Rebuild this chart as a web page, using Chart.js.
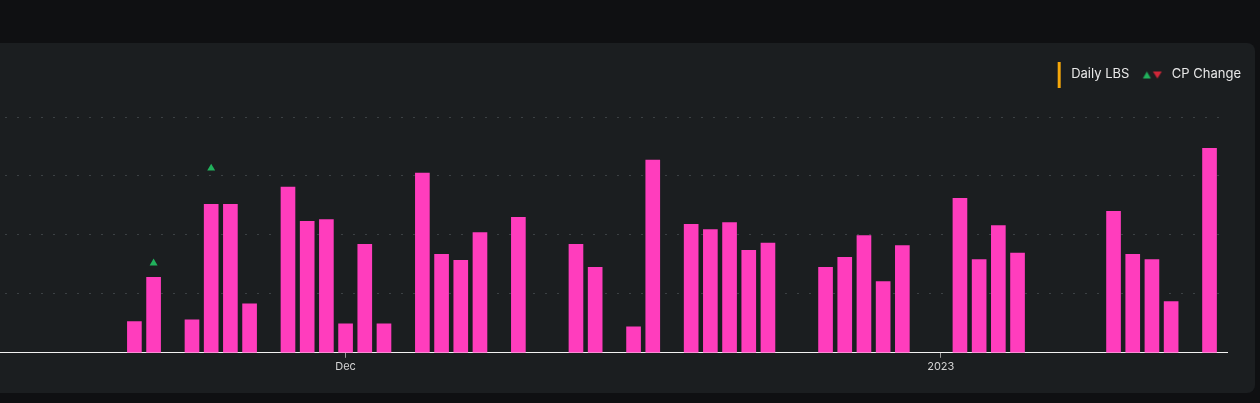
<!DOCTYPE html>
<html>
<head>
<meta charset="utf-8">
<script src="https://cdn.jsdelivr.net/npm/chart.js@4.4.0/dist/chart.umd.min.js"></script>
<style>
html,body{margin:0;padding:0;background:#0f1012;width:1260px;height:403px;overflow:hidden}
.panel{position:absolute;left:-12px;top:43px;width:1267px;height:350px;background:#1b1e20;border-radius:8px}
.wrap{position:absolute;left:0;top:43px;width:1255px;height:350px}
</style>
</head>
<body>
<div class="panel"></div>
<div class="wrap"><canvas id="chart"></canvas></div>
<script>
// daily LBS bars
const days = [
  '2022-11-20','2022-11-21','2022-11-23','2022-11-24','2022-11-25','2022-11-26',
  '2022-11-28','2022-11-29','2022-11-30','2022-12-01','2022-12-02','2022-12-03',
  '2022-12-05','2022-12-06','2022-12-07','2022-12-08','2022-12-10',
  '2022-12-13','2022-12-14','2022-12-16','2022-12-17',
  '2022-12-19','2022-12-20','2022-12-21','2022-12-22','2022-12-23',
  '2022-12-26','2022-12-27','2022-12-28','2022-12-29','2022-12-30',
  '2023-01-02','2023-01-03','2023-01-04','2023-01-05',
  '2023-01-10','2023-01-11','2023-01-12','2023-01-13','2023-01-15'
];
const lbs = [
  0.53, 1.28, 0.56, 2.52, 2.52, 0.83,
  2.81, 2.23, 2.26, 0.49, 1.84, 0.49,
  3.05, 1.67, 1.57, 2.04, 2.30,
  1.84, 1.45, 0.44, 3.27,
  2.18, 2.09, 2.21, 1.74, 1.86,
  1.45, 1.62, 1.99, 1.21, 1.82,
  2.62, 1.58, 2.16, 1.69,
  2.40, 1.67, 1.58, 0.87, 3.47
];

// CP change markers
const cpDays = ['2022-11-21', '2022-11-24'];
const cpValues = [1.52, 3.13];

// x tick labels
const tickDays = ['2022-12-01', '2023-01-01'];
const tickLabels = ['Dec', '2023'];

const dayNum = s => Date.parse(s) / 86400000;
const start = dayNum('2022-12-01');

function icon(draw) {
  const c = document.createElement('canvas');
  c.width = 26; c.height = 26;
  draw(c.getContext('2d'));
  return c;
}
const lbsIcon = icon(g => {
  g.fillStyle = '#f5a70a';
  g.fillRect(19, 0, 3, 26);
});
const cpIcon = icon(g => {
  g.fillStyle = '#21b15c';
  g.beginPath(); g.moveTo(3.5, 17); g.lineTo(11.5, 17); g.lineTo(7.5, 10); g.closePath(); g.fill();
  g.fillStyle = '#cf2738';
  g.beginPath(); g.moveTo(13.5, 10); g.lineTo(22.5, 10); g.lineTo(18, 17); g.closePath(); g.fill();
});

const legendGap = {
  id: 'legendGap',
  beforeInit(chart) {
    const fit = chart.legend.fit;
    chart.legend.fit = function () { fit.call(this); this.height += 26; };
  }
};

new Chart(document.getElementById('chart'), {
  type: 'bar',
  data: {
    datasets: [
      {
        type: 'scatter',
        label: 'CP Change',
        data: cpDays.map((d, i) => ({ x: dayNum(d), y: cpValues[i] })),
        pointStyle: 'triangle',
        pointRadius: 4.6,
        backgroundColor: '#21b15c',
        borderWidth: 0
      },
      {
        label: 'Daily LBS',
        data: days.map((d, i) => ({ x: dayNum(d), y: lbs[i] })),
        backgroundColor: '#ff3dbd',
        barThickness: 14
      }
    ]
  },
  options: {
    responsive: true,
    maintainAspectRatio: false,
    animation: false,
    layout: { autoPadding: false, padding: { top: 15, right: 4, bottom: 18, left: 0 } },
    plugins: {
      legend: {
        position: 'top',
        align: 'end',
        labels: {
          usePointStyle: true,
          pointStyleWidth: 26,
          padding: 10,
          color: '#e8e8e8',
          font: { family: 'Inter', size: 13 },
          generateLabels: () => [
            { text: 'Daily LBS', pointStyle: lbsIcon, fontColor: '#e8e8e8', lineWidth: 0, datasetIndex: 1 },
            { text: 'CP Change', pointStyle: cpIcon, fontColor: '#e8e8e8', lineWidth: 0, datasetIndex: 0 }
          ]
        }
      },
      tooltip: { enabled: false }
    },
    scales: {
      x: {
        type: 'linear',
        offset: false,
        min: start - 18.0,
        max: start + 45.91,
        afterBuildTicks: s => { s.ticks = tickDays.map(d => ({ value: dayNum(d) })); },
        ticks: {
          color: '#d4d4d4',
          font: { family: 'Inter', size: 11 },
          padding: 2,
          maxRotation: 0,
          autoSkip: false,
          callback: (v) => tickLabels[tickDays.map(dayNum).indexOf(v)]
        },
        grid: { offset: false, drawOnChartArea: false, drawTicks: true, tickLength: 5, color: '#9a9a9a' },
        border: { color: '#f2f2f2', width: 1 }
      },
      y: {
        min: 0,
        max: 4,
        ticks: { display: false, stepSize: 1 },
        grid: { color: '#3c4144', drawTicks: false },
        border: { display: false, dash: [2, 10], dashOffset: 7 },
        afterFit: s => { s.width = 0; }
      },
      yR: {
        type: 'linear',
        position: 'right',
        grid: { display: false },
        ticks: { display: false },
        border: { display: false },
        afterFit: s => { s.width = 24; }
      }
    }
  },
  plugins: [legendGap]
});
</script>
</body>
</html>
